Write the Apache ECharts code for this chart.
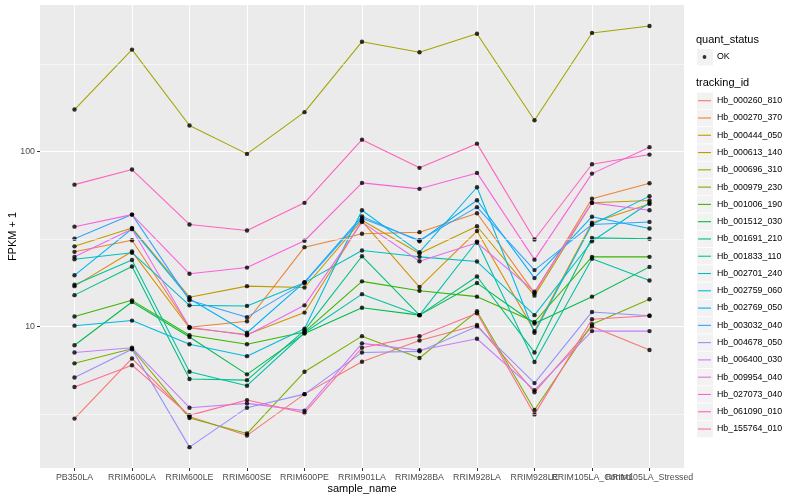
<!DOCTYPE html>
<html><head><meta charset="utf-8">
<script src="https://cdn.jsdelivr.net/npm/echarts@6/dist/echarts.min.js"></script>
<style>html,body{margin:0;padding:0;background:#fff}#c{width:800px;height:500px}</style>
</head><body><div id="c"></div>
<script>
const categories = ['PB350LA','RRIM600LA','RRIM600LE','RRIM600SE','RRIM600PE','RRIM901LA','RRIM928BA','RRIM928LA','RRIM928LE','RRIM105LA_Control','RRIM105LA_Stressed'];
const trackingIds = ['Hb_000260_810','Hb_000270_370','Hb_000444_050','Hb_000613_140','Hb_000696_310','Hb_000979_230','Hb_001006_190','Hb_001512_030','Hb_001691_210','Hb_001833_110','Hb_002701_240','Hb_002759_060','Hb_002769_050','Hb_003032_040','Hb_004678_050','Hb_006400_030','Hb_009954_040','Hb_027073_040','Hb_061090_010','Hb_155764_010'];
const colors = ['#F8766D','#EA8331','#D89000','#C09B00','#A3A500','#7CAE00','#39B600','#00BB4E','#00BF7D','#00C1A3','#00BFC4','#00BAE0','#00B0F6','#35A2FF','#9590FF','#C77CFF','#E76BF3','#FA62DB','#FF62BC','#FF6C91'];
const yTicks = [10, 100];
const yMinorBreaks = [3.1623, 31.623, 316.23];

// FPKM + 1 per tracking id, in the order of categories
const Hb_000260_810 = [2.97, 6.56, 3.05, 2.38, 4.1, 6.28, 8.3, 10.2, 4.2, 10.0, 7.33];
const Hb_000270_370 = [26.7, 31.1, 9.9, 10.7, 28.4, 33.9, 34.6, 44.4, 15.5, 53.7, 65.9];
const Hb_000444_050 = [17.0, 26.8, 9.8, 9.0, 12.0, 40.0, 16.8, 35.1, 9.4, 39.2, 50.2];
const Hb_000613_140 = [28.7, 36.6, 14.7, 17.0, 16.7, 40.5, 26.1, 37.4, 15.0, 51.0, 52.5];
const Hb_000696_310 = [174, 383, 141, 97, 168, 425, 370, 472, 151, 477, 523];
const Hb_000979_230 = [6.15, 7.45, 2.99, 2.44, 5.5, 8.8, 6.6, 12.2, 3.33, 10.3, 14.3];
const Hb_001006_190 = [11.4, 14.1, 8.9, 7.9, 9.3, 18.1, 16.0, 14.8, 10.6, 25.0, 25.0];
const Hb_001512_030 = [7.8, 13.8, 8.7, 5.32, 9.1, 12.8, 11.6, 17.7, 10.4, 14.8, 21.9];
const Hb_001691_210 = [15.1, 22.0, 5.0, 4.93, 9.5, 25.2, 11.6, 19.3, 7.1, 32.1, 31.7];
const Hb_001833_110 = [17.3, 24.0, 5.5, 4.58, 9.2, 15.3, 11.6, 30.7, 6.26, 24.4, 18.3];
const Hb_002701_240 = [24.2, 26.4, 13.2, 13.1, 17.8, 27.2, 25.0, 23.5, 11.6, 30.7, 51.0];
const Hb_002759_060 = [10.1, 10.8, 7.9, 6.76, 9.7, 46.2, 26.6, 62.5, 9.2, 38.3, 55.6];
const Hb_002769_050 = [19.6, 36.1, 14.4, 9.2, 17.9, 42.6, 30.7, 52.7, 18.9, 42.4, 36.3];
const Hb_003032_040 = [31.7, 43.6, 14.1, 11.3, 17.8, 41.5, 31.1, 48.1, 21.0, 38.3, 39.6];
const Hb_004678_050 = [5.1, 7.4, 2.04, 3.43, 4.1, 7.1, 7.2, 10.0, 4.74, 12.1, 11.5];
const Hb_006400_030 = [7.1, 7.55, 3.43, 3.63, 3.3, 8.0, 7.3, 8.5, 4.32, 9.4, 9.4];
const Hb_009954_040 = [25.0, 36.1, 9.9, 8.9, 13.2, 39.5, 23.6, 30.1, 15.8, 50.9, 46.2];
const Hb_027073_040 = [37.2, 43.6, 20.0, 21.7, 30.9, 66.2, 61.2, 75.5, 24.1, 74.8, 106];
const Hb_061090_010 = [64.7, 78.9, 38.3, 35.4, 50.9, 117, 80.7, 111, 31.4, 84.6, 96.1];
const Hb_155764_010 = [4.5, 6.0, 3.1, 3.79, 3.2, 7.55, 8.8, 11.9, 3.14, 11.0, 11.5];

const values = [Hb_000260_810, Hb_000270_370, Hb_000444_050, Hb_000613_140, Hb_000696_310, Hb_000979_230, Hb_001006_190, Hb_001512_030, Hb_001691_210, Hb_001833_110, Hb_002701_240, Hb_002759_060, Hb_002769_050, Hb_003032_040, Hb_004678_050, Hb_006400_030, Hb_009954_040, Hb_027073_040, Hb_061090_010, Hb_155764_010];

const FONT = 'Liberation Sans, Arial, Helvetica, sans-serif';
const catIdx = categories.map((c, i) => i);
const evenIdx = catIdx.filter(i => i % 2 === 0);
const oddIdx = catIdx.filter(i => i % 2 === 1);

const series = [{
  type: 'line', name: '_grid', data: [], silent: true, z: 1,
  markLine: {
    silent: true, symbol: 'none', label: { show: false }, animation: false,
    lineStyle: { color: '#FFFFFF', width: 0.55, type: 'solid' },
    data: yMinorBreaks.map(v => ({ yAxis: v }))
  }
}];
trackingIds.forEach((id, k) => {
  series.push({
    type: 'line', name: id, color: colors[k], showSymbol: false, silent: true, z: 2,
    lineStyle: { width: 1.07, color: colors[k] },
    data: values[k].map((v, i) => [i, v])
  });
});
const pts = [];
values.forEach(arr => arr.forEach((v, i) => pts.push([i, v])));
series.push({
  type: 'scatter', name: 'OK', color: '#000000', symbol: 'circle', symbolSize: 4.4, silent: true, z: 3,
  itemStyle: { color: '#000000' }, data: pts
});

const graphic = [
  { type: 'text', left: 696, top: 34, style: { text: 'quant_status', font: '11px ' + FONT, fill: '#000' } },
  { type: 'text', left: 696, top: 77, style: { text: 'tracking_id', font: '11px ' + FONT, fill: '#000' } },
  { type: 'rect', shape: { x: 697, y: 48.9, width: 16, height: 16.4 }, style: { fill: '#F2F2F2' }, z: -1 }
];
trackingIds.forEach((id, i) => {
  graphic.push({ type: 'rect', shape: { x: 697, y: 92.5 + 17.28 * i, width: 16, height: 16.4 }, style: { fill: '#F2F2F2' }, z: -1 });
});

const xLabelStyle = { formatter: v => categories[v], fontSize: 8.8, color: '#4D4D4D', margin: 5, fontFamily: FONT, hideOverlap: false, showMinLabel: true, showMaxLabel: true };

const chart = echarts.init(document.getElementById('c'), null, { renderer: 'canvas' });
chart.setOption({
  animation: false,
  backgroundColor: '#FFFFFF',
  textStyle: { fontFamily: FONT },
  grid: { left: 40, top: 5, width: 644, height: 463, show: true, backgroundColor: '#EBEBEB', borderWidth: 0, containLabel: false, outerBoundsMode: 'none' },
  xAxis: [{
    type: 'value', min: -0.6, max: 10.6, position: 'bottom',
    name: 'sample_name', nameLocation: 'middle', nameGap: 15, nameMoveOverlap: false,
    nameTextStyle: { fontSize: 11, color: '#000', fontFamily: FONT },
    axisLine: { show: false, onZero: false },
    axisTick: { show: true, length: 3, lineStyle: { color: '#333333', width: 1 }, customValues: catIdx },
    axisLabel: Object.assign({ customValues: evenIdx }, xLabelStyle),
    splitLine: { show: true, lineStyle: { color: '#FFFFFF', width: 1.07 } }
  }, {
    type: 'value', min: -0.6, max: 10.6, position: 'bottom', offset: 0,
    axisLine: { show: false, onZero: false },
    axisTick: { show: false },
    axisLabel: Object.assign({ customValues: oddIdx }, xLabelStyle),
    splitLine: { show: false }
  }],
  yAxis: {
    type: 'log', logBase: 10, min: 1.55, max: 689,
    name: 'FPKM + 1', nameLocation: 'middle', nameGap: 22, nameMoveOverlap: false,
    nameTextStyle: { fontSize: 11, color: '#000', fontFamily: FONT },
    axisLine: { show: false, onZero: false },
    axisTick: { show: true, length: 3, lineStyle: { color: '#333333', width: 1 }, customValues: yTicks },
    axisLabel: { customValues: yTicks, fontSize: 8.8, color: '#4D4D4D', margin: 5, fontFamily: FONT, formatter: v => String(Math.round(v)), showMinLabel: true, showMaxLabel: true },
    splitLine: { show: true, lineStyle: { color: '#FFFFFF', width: 1.07 } }
  },
  legend: [{
    data: trackingIds, orient: 'vertical', left: 697, top: 92.06, padding: 0,
    itemWidth: 15, itemHeight: 17.28, itemGap: 0, selectedMode: false,
    icon: 'path://M0,0M15,17.28M1,8.1h13v1.1h-13z',
    textStyle: { fontSize: 8.8, color: '#000', fontFamily: FONT }
  }, {
    data: ['OK'], orient: 'vertical', left: 697, top: 48.5, padding: 0,
    itemWidth: 15, itemHeight: 17, itemGap: 0, selectedMode: false,
    icon: 'path://M0,0M15,17M5.6,8.5a1.9,1.9 0 1,0 3.8,0a1.9,1.9 0 1,0 -3.8,0z',
    textStyle: { fontSize: 8.8, color: '#000', fontFamily: FONT }
  }],
  graphic: graphic,
  series: series
});
</script>
</body></html>
